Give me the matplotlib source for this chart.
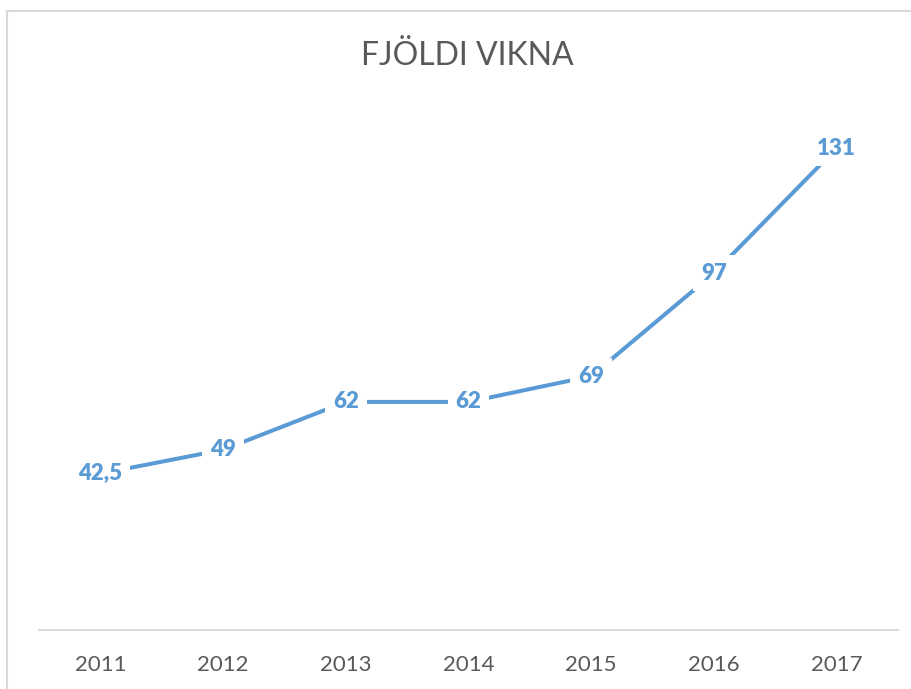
import matplotlib.pyplot as plt
from matplotlib.patches import Rectangle

plt.rcParams['font.family'] = ['Lato', 'DejaVu Sans']

years = ['2011', '2012', '2013', '2014', '2015', '2016', '2017']
weeks = [42.5, 49, 62, 62, 69, 97, 131]
labels = ['42,5', '49', '62', '62', '69', '97', '131']

blue = '#5B9BD5'
grey = '#595959'

fig = plt.figure(figsize=(9.12, 6.89), dpi=100)
# chart border, cut off on the right and bottom like the screenshot
fig.patches.append(Rectangle((7 / 912, -0.05), 1.1, 1 - 11 / 689 + 0.05,
                             transform=fig.transFigure, fill=False,
                             edgecolor='#D9D9D9', lw=1.5))

ax = fig.add_axes([39 / 912, 59 / 689, 859 / 912, 515 / 689])
x = range(len(years))
ax.plot(x, weeks, color=blue, lw=2.9, solid_capstyle='butt')
for i, (v, t) in enumerate(zip(weeks, labels)):
    ax.text(i, v, t, ha='center', va='center', fontsize=16, fontweight='heavy',
            color=blue, bbox=dict(boxstyle='square,pad=0.35', fc='white', ec='none'))

ax.set_xlim(-0.5, len(years) - 0.5)
ax.set_ylim(0, 140)
ax.set_xticks(list(x))
ax.set_xticklabels(years, fontsize=16, color=grey)
ax.tick_params(axis='x', length=0, pad=18)
ax.set_yticks([])
for s in ['top', 'left', 'right']:
    ax.spines[s].set_visible(False)
ax.spines['bottom'].set_color('#D9D9D9')
ax.spines['bottom'].set_linewidth(1.5)

fig.text(467 / 912, 1 - 56 / 689, 'FJÖLDI VIKNA', ha='center', va='center',
         fontsize=23, color=grey)

fig.savefig('out.png', dpi=100)
